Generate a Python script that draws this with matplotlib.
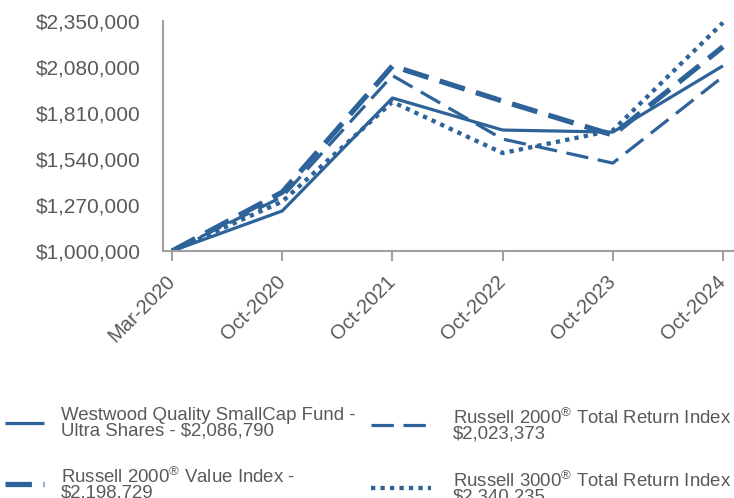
import matplotlib
matplotlib.use('Agg')
import matplotlib.pyplot as plt
from matplotlib.ticker import FuncFormatter

plt.rcParams['font.family'] = ['Liberation Sans', 'DejaVu Sans']
plt.rcParams['mathtext.fontset'] = 'custom'
plt.rcParams['mathtext.rm'] = 'Liberation Sans'

# data (growth of $1,000,000)
dates = ['Mar-2020', 'Oct-2020', 'Oct-2021', 'Oct-2022', 'Oct-2023', 'Oct-2024']
fund = [1000000, 1235000, 1898000, 1710000, 1698000, 2086790]
r2000_tr = [1000000, 1318000, 2030000, 1657000, 1516000, 2023373]
r2000_value = [1000000, 1345000, 2086000, 1880000, 1681000, 2198729]
r3000_tr = [1000000, 1290000, 1875000, 1575000, 1708000, 2340235]

labels = ['Westwood Quality SmallCap Fund -\nUltra Shares - \\$2,086,790',
          'Russell 2000$^{\\circledR}$ Total Return Index -\n\\$2,023,373',
          'Russell 2000$^{\\circledR}$ Value Index -\n\\$2.198.729',
          'Russell 3000$^{\\circledR}$ Total Return Index -\n\\$2.340.235']
yticks = [1000000, 1270000, 1540000, 1810000, 2080000, 2350000]

blue = '#2E6399'
grey_txt = '#595959'
grey_ax = '#A0A0A0'

fig = plt.figure(figsize=(7.34, 4.98), dpi=100)
ax = fig.add_axes([163/734, 1-251/498, 1-163/734, 230/498])

x = range(len(dates))
l1, = ax.plot(x, fund, color=blue, lw=2.3, solid_capstyle='butt')
l2, = ax.plot(x, r2000_tr, color=blue, lw=2.3, dashes=(7, 3))
l3, = ax.plot(x, r2000_value, color=blue, lw=3.8, dashes=(5, 2.2))
l4, = ax.plot(x, r3000_tr, color=blue, lw=3.1, dashes=(1, 1.2))

ax.set_xlim(-0.082, 5.1)
ax.set_ylim(1000000, 2350000)
ax.set_xticks(list(x))
ax.set_xticklabels(dates, rotation=45, ha='right', va='center', rotation_mode='anchor')
ax.set_yticks(yticks)
ax.yaxis.set_major_formatter(FuncFormatter(lambda v, p: '${:,.0f}'.format(v)))

for s in ['top', 'right']:
    ax.spines[s].set_visible(False)
for s in ['left', 'bottom']:
    ax.spines[s].set_color(grey_ax)
    ax.spines[s].set_linewidth(1.5)
ax.tick_params(axis='y', length=0, pad=16, labelsize=15, labelcolor=grey_txt)
ax.tick_params(axis='x', length=7, width=1.5, color=grey_ax, pad=13,
               labelsize=14.5, labelcolor=grey_txt)

# legend: two columns as two legends
leg1 = fig.legend([l1, l3], [labels[0], labels[2]], loc='upper left',
                  bbox_to_anchor=(5/734, 1-407/498), frameon=False, fontsize=13.4,
                  handlelength=2.1, handletextpad=0.9, labelspacing=1.45,
                  borderpad=0, borderaxespad=0, labelcolor=grey_txt)
leg2 = fig.legend([l2, l4], [labels[1], labels[3]], loc='upper left',
                  bbox_to_anchor=(371/734, 1-407/498), frameon=False, fontsize=13.4,
                  handlelength=3.2, handletextpad=1.2, labelspacing=1.45,
                  borderpad=0, borderaxespad=0, labelcolor=grey_txt)
for leg in (leg1, leg2):
    for t in leg.get_texts():
        t.set_linespacing(0.85)

fig.savefig('out.png', dpi=100)
